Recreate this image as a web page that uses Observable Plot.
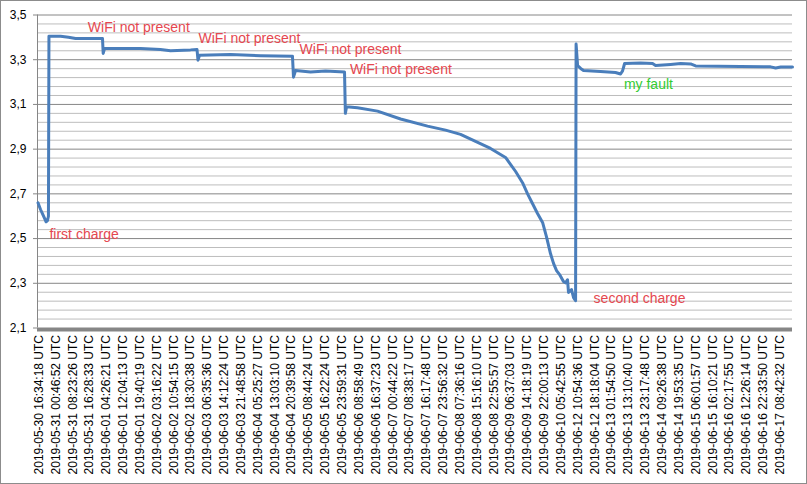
<!DOCTYPE html>
<html>
<head>
<meta charset="utf-8">
<script src="https://cdn.jsdelivr.net/npm/d3@7"></script>
<script src="https://cdn.jsdelivr.net/npm/@observablehq/plot@0.6"></script>
<style>
  html, body { margin: 0; padding: 0; background: #fff; }
  #chart svg { display: block; outline: 1px solid #8c8c8c; outline-offset: -1px; }
</style>
</head>
<body>
<div id="chart"></div>
<script>
// Tick labels of the category axis (one every N samples)
const timeLabels = [
  "2019-05-30 16:34:18 UTC","2019-05-31 00:46:52 UTC","2019-05-31 08:23:26 UTC","2019-05-31 16:28:33 UTC",
  "2019-06-01 04:26:21 UTC","2019-06-01 12:04:13 UTC","2019-06-01 19:40:19 UTC","2019-06-02 03:16:22 UTC",
  "2019-06-02 10:54:15 UTC","2019-06-02 18:30:38 UTC","2019-06-03 06:35:36 UTC","2019-06-03 14:12:24 UTC",
  "2019-06-03 21:48:58 UTC","2019-06-04 05:25:27 UTC","2019-06-04 13:03:10 UTC","2019-06-04 20:39:58 UTC",
  "2019-06-05 08:44:24 UTC","2019-06-05 16:22:24 UTC","2019-06-05 23:59:31 UTC","2019-06-06 08:58:49 UTC",
  "2019-06-06 16:37:23 UTC","2019-06-07 00:44:22 UTC","2019-06-07 08:38:17 UTC","2019-06-07 16:17:48 UTC",
  "2019-06-07 23:56:32 UTC","2019-06-08 07:36:16 UTC","2019-06-08 15:16:10 UTC","2019-06-08 22:55:57 UTC",
  "2019-06-09 06:37:03 UTC","2019-06-09 14:18:19 UTC","2019-06-09 22:00:13 UTC","2019-06-10 05:42:55 UTC",
  "2019-06-12 10:54:36 UTC","2019-06-12 18:18:04 UTC","2019-06-13 01:54:50 UTC","2019-06-13 13:10:40 UTC",
  "2019-06-13 23:17:48 UTC","2019-06-14 09:26:38 UTC","2019-06-14 19:53:35 UTC","2019-06-15 06:01:57 UTC",
  "2019-06-15 16:10:21 UTC","2019-06-16 02:17:55 UTC","2019-06-16 12:26:14 UTC","2019-06-16 22:33:50 UTC",
  "2019-06-17 08:42:32 UTC"
];

// Sample position (in units of tick-label index) and battery voltage
const samplePos = [
  -0.06, 0.09, 0.21, 0.33, 0.42, 0.50, 0.56, 0.59, 1.28, 1.75, 2.17, 3.77, 3.81, 3.89, 6.03, 7.21, 7.81, 9.00,
  9.38, 9.44, 9.53, 11.37, 13.15, 15.05, 15.11, 15.23, 16.12, 17.01, 18.14, 18.19, 18.26, 18.91, 20.10, 21.47,
  23.07, 24.14, 25.03, 25.92, 26.81, 27.70, 28.30, 28.71, 29.01, 29.30, 29.60, 29.90, 30.13, 30.37, 30.55, 30.73,
  30.91, 31.14, 31.26, 31.38, 31.44, 31.62, 31.74, 31.86, 31.89, 31.98, 32.16, 32.33, 33.34, 34.23, 34.53, 34.65,
  34.77, 35.72, 36.43, 36.61, 37.50, 38.10, 38.69, 38.99, 41.66, 43.44, 43.74, 44.04, 44.74
];
const voltage = [
  2.660, 2.630, 2.610, 2.590, 2.575, 2.580, 2.600, 3.405, 3.405, 3.400, 3.395, 3.395, 3.328, 3.350, 3.350, 3.346, 3.340, 3.344,
  3.346, 3.298, 3.320, 3.323, 3.318, 3.315, 3.222, 3.252, 3.245, 3.250, 3.245, 3.060, 3.090, 3.085, 3.070, 3.035,
  3.003, 2.985, 2.966, 2.935, 2.903, 2.863, 2.800, 2.750, 2.700, 2.657, 2.612, 2.572, 2.509, 2.433, 2.389, 2.357,
  2.339, 2.308, 2.302, 2.316, 2.259, 2.272, 2.236, 2.222, 3.370, 3.274, 3.261, 3.252, 3.247, 3.243, 3.236, 3.250,
  3.283, 3.285, 3.283, 3.274, 3.279, 3.283, 3.281, 3.272, 3.270, 3.268, 3.263, 3.267, 3.267
];

// Annotations
const noteText  = ["first charge", "WiFi not present", "WiFi not present", "WiFi not present", "WiFi not present", "second charge", "my fault"];
const notePos   = [0.62, 2.90, 9.47, 15.47, 18.46, 32.93, 34.73];
const noteVolt  = [2.519, 3.443, 3.393, 3.346, 3.257, 2.230, 3.190];
const noteColor = ["#e5474f", "#e5474f", "#e5474f", "#e5474f", "#e5474f", "#e5474f", "#33cc33"];

const majorTicks = [2.1, 2.3, 2.5, 2.7, 2.9, 3.1, 3.3, 3.5];
const minorTicks = d3.range(0, 35).map(i => +(2.1 + i * 0.04).toFixed(2)).filter(v => !majorTicks.some(m => Math.abs(m - v) < 1e-6));

const data = samplePos.map((p, i) => ({p, v: voltage[i]}));
const notes = noteText.map((t, i) => ({t, p: notePos[i], v: noteVolt[i], c: noteColor[i]}));

const fmt = d => d.toFixed(1).replace(".", ",");

const chart = Plot.plot({
  width: 807,
  height: 484,
  marginLeft: 37,
  marginRight: 15,
  marginTop: 14.5,
  marginBottom: 156.5,
  style: {fontFamily: "'Liberation Sans', Arial, sans-serif", background: "#fff"},
  x: {domain: [-0.09, 44.74]},
  y: {domain: [2.1, 3.5]},
  marks: [
    Plot.ruleY(minorTicks, {stroke: "#bdbdbd", strokeWidth: 1}),
    Plot.ruleY(majorTicks.slice(1), {stroke: "#868686", strokeWidth: 1}),
    Plot.ruleX([-0.09], {stroke: "#868686", strokeWidth: 1}),
    Plot.axisY({ticks: majorTicks, tickFormat: fmt, tickSize: 4, tickPadding: 7, fontSize: 12, stroke: "#868686", fill: "#000", label: null}),
    Plot.axisX({ticks: d3.range(timeLabels.length), tickFormat: i => timeLabels[i], tickRotate: -90, tickSize: 0, tickPadding: 7, fontSize: 12, fill: "#000", label: null}),
    Plot.ruleY([2.1], {stroke: "#868686", strokeWidth: 4, dy: 1.5}),
    Plot.line(data, {x: "p", y: "v", stroke: "#4a7ebb", strokeWidth: 3, strokeLinejoin: "round", strokeLinecap: "round"}),
    Plot.text(notes, {x: "p", y: "v", text: "t", fill: "c", textAnchor: "start", fontSize: 14})
  ]
});
document.getElementById("chart").appendChild(chart);
</script>
</body>
</html>
